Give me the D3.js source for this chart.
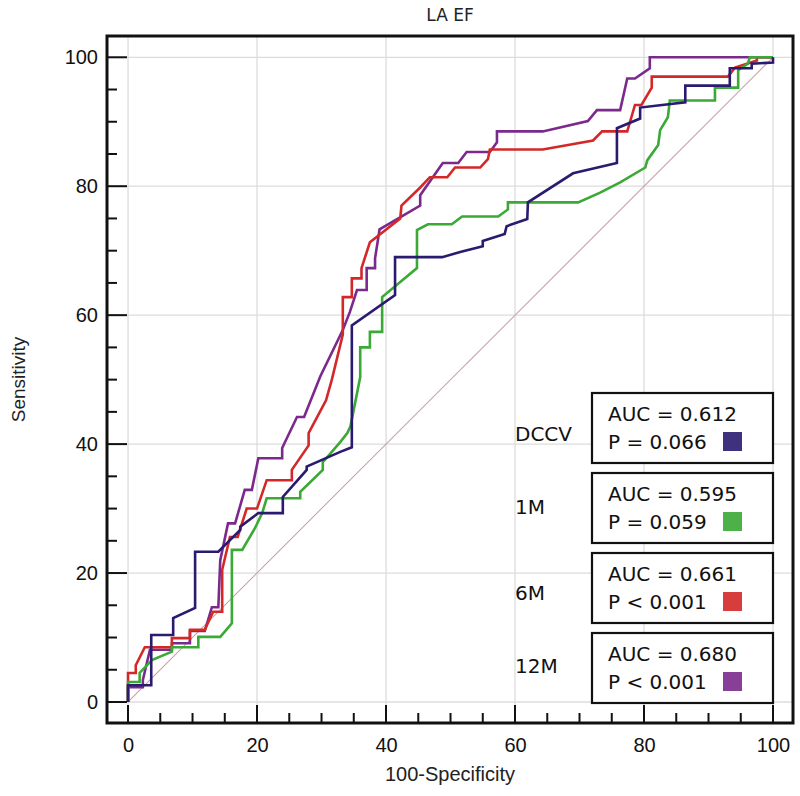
<!DOCTYPE html>
<html><head><meta charset="utf-8">
<script src="https://cdn.jsdelivr.net/npm/d3@7"></script>
<style>body{margin:0;background:#fff}</style>
</head><body>
<script>
const title = "LA EF";
const xLabel = "100-Specificity";
const yLabel = "Sensitivity";
const tickValues = [0, 20, 40, 60, 80, 100];
const seriesNames = ["DCCV", "1M", "6M", "12M"];
const seriesColors = ["#2b1b70", "#3aa936", "#d42828", "#7b2a8c"];
const aucLabels = ["AUC = 0.612", "AUC = 0.595", "AUC = 0.661", "AUC = 0.680"];
const pLabels = ["P = 0.066", "P = 0.059", "P < 0.001", "P < 0.001"];

const dccv = [[0,0],[0,2.6],[3.6,2.6],[3.6,10.4],[7,10.4],[7,13],[10.4,14.6],[10.4,23.3],[14,23.3],[17.4,26.7],[17.4,27.2],[20.2,29.3],[24,29.3],[24,31.8],[27.7,36],[27.7,36.5],[32.9,38.8],[34.7,39.5],[34.7,58.4],[41.4,63.1],[41.4,69],[48.7,69],[51.5,69.8],[55,70.7],[55,71.5],[58.4,72.6],[58.7,73.8],[61.9,74.9],[62,77.5],[69,82],[75.8,83.6],[75.8,89],[79.4,90.5],[79.4,92.2],[86.4,93],[86.4,95.6],[93.3,95.6],[93.3,98.3],[96.7,98.3],[96.7,99],[100,99.2],[100,100]];
const m1 = [[0,0],[0,3.1],[1.8,3.1],[1.8,4.5],[3.7,6.5],[6.8,7.8],[6.8,8.5],[10.9,8.5],[10.9,10.1],[14.3,10.1],[16.1,12.2],[16.1,23.6],[17.7,23.6],[19.7,27],[20.8,29.3],[21.5,31.6],[26.7,31.6],[26.7,32.6],[30.2,36],[30.2,37.2],[32.9,40.3],[34,41.7],[34.5,42.8],[36,50.4],[36,55],[37.5,55],[37.5,57.4],[39.4,57.4],[39.4,62.8],[44.8,67.3],[44.8,73.2],[46.5,74.1],[50.2,74.1],[51.8,75.3],[57.4,75.3],[58.9,76.4],[58.9,77.5],[69.8,77.5],[73.2,79],[76.3,80.6],[80.2,82.9],[80.5,84],[82.2,86.4],[82.5,88.7],[83.7,90.7],[84,93.3],[91,93.3],[91,95.3],[94.6,95.3],[94.6,98],[96.1,99],[96.4,100],[100,100]];
const m6 = [[0,0],[0,4.5],[1.2,4.5],[1.2,5.7],[2.6,8.5],[6.8,8.5],[6.8,9.9],[9.6,9.9],[9.6,11.2],[11.9,11.2],[13.2,14],[14.6,14],[14.6,20.5],[15.8,25.6],[17,25.6],[18.4,30],[20,30],[21.5,34.4],[25.4,34.4],[25.4,36],[28,39.8],[28,41.7],[30.7,46.8],[31.6,50],[33.3,57],[33.3,62.8],[34.7,62.8],[34.7,65.7],[36.2,65.7],[36.2,67.3],[37.5,71.3],[42.2,75],[42.4,77],[45.3,79.8],[46.8,81.4],[49.5,81.4],[50.7,82.9],[54.6,82.9],[55.8,84.2],[56.1,85.7],[64.3,85.7],[72.1,87.1],[73.5,88.5],[77.4,88.5],[78.6,92.6],[79.6,92.6],[81.2,95.3],[81.2,97],[93,97],[94.1,98.4],[97.5,99.5],[97.5,100],[100,100]];
const m12 = [[0,0],[0,2.3],[2.3,2.3],[2.3,3.4],[3.4,8.1],[6.8,8.1],[6.8,9.1],[9.6,9.1],[9.6,11],[11.9,11],[13,14.7],[14,14.7],[14.3,22],[15.5,27.7],[16.6,27.7],[18.1,32.9],[19.2,32.9],[20.2,37.8],[23.9,37.8],[23.9,39.4],[26.2,44.2],[27.3,44.2],[29.8,50.5],[33.3,57.7],[34.4,60.5],[35.5,63.9],[37,63.9],[37,67.3],[38.3,67.3],[38.3,68.8],[39,73.3],[45.3,77],[45.3,78.6],[48.8,83.6],[51.2,83.6],[52.5,85.3],[56.1,85.3],[57.2,86.8],[57.2,88.5],[64.3,88.5],[71.3,90.1],[72.7,91.8],[76.3,91.8],[77.4,96.7],[78.6,96.7],[80.9,98.3],[80.9,100],[100,100]];
const seriesData = [dccv, m1, m6, m12];

const W = 800, H = 796;
const L = 107, R = 793, T = 36, B = 723;
const svg = d3.select("body").append("svg").attr("width", W).attr("height", H);

const x = d3.scaleLinear().domain([-3.26, 103.1]).range([L, R]);
const y = d3.scaleLinear().domain([-3.26, 103.3]).range([B, T]);

// grid
svg.append("g").selectAll("line").data(tickValues).join("line")
  .attr("x1", d => x(d)).attr("x2", d => x(d)).attr("y1", T).attr("y2", B)
  .attr("stroke", "#dcdcdc").attr("stroke-width", 1.3);
svg.append("g").selectAll("line").data(tickValues).join("line")
  .attr("y1", d => y(d)).attr("y2", d => y(d)).attr("x1", L).attr("x2", R)
  .attr("stroke", "#dcdcdc").attr("stroke-width", 1.3);

// diagonal
svg.append("line").attr("x1", x(0)).attr("y1", y(0)).attr("x2", x(100)).attr("y2", y(100))
  .attr("stroke", "#c9a2aa").attr("stroke-width", 1.1);

// curves
const line = d3.line().x(d => x(d[0])).y(d => y(d[1]));
[3, 2, 1, 0].forEach(i => {
  svg.append("path").attr("d", line(seriesData[i])).attr("fill", "none")
    .attr("stroke", seriesColors[i]).attr("stroke-width", 2.6);
});

// ticks (inward)
const minor = d3.range(0, 101, 5);
const tickFont = "'Liberation Sans',Arial,sans-serif";
svg.append("g").selectAll("line").data(minor).join("line")
  .attr("x1", d => x(d)).attr("x2", d => x(d)).attr("y1", B)
  .attr("y2", d => d % 20 === 0 ? B - 18 : B - 10)
  .attr("stroke", "#111").attr("stroke-width", 2);
svg.append("g").selectAll("line").data(minor).join("line")
  .attr("y1", d => y(d)).attr("y2", d => y(d)).attr("x1", L)
  .attr("x2", d => d % 20 === 0 ? L + 20 : L + 10)
  .attr("stroke", "#111").attr("stroke-width", 2);
const gx = svg.append("g").attr("transform", `translate(0,${B})`)
  .call(d3.axisBottom(x).tickValues(tickValues).tickSize(0).tickPadding(15));
gx.select(".domain").remove();
gx.selectAll("text").attr("font-family", tickFont).attr("font-size", 20).attr("fill", "#111");
const gy = svg.append("g").attr("transform", `translate(${L},0)`)
  .call(d3.axisLeft(y).tickValues(tickValues).tickSize(0).tickPadding(9));
gy.select(".domain").remove();
gy.selectAll("text").attr("font-family", tickFont).attr("font-size", 20).attr("fill", "#111");

// frame
svg.append("rect").attr("x", L).attr("y", T).attr("width", R - L).attr("height", B - T)
  .attr("fill", "none").attr("stroke", "#111").attr("stroke-width", 3);

// titles
svg.append("text").attr("x", (L + R) / 2).attr("y", 21).attr("text-anchor", "middle")
  .attr("font-family", "'DejaVu Sans',sans-serif").attr("font-size", 17).attr("fill", "#222").text(title);
svg.append("text").attr("x", (L + R) / 2).attr("y", 781).attr("text-anchor", "middle")
  .attr("font-family", tickFont).attr("font-size", 20).attr("fill", "#222").text(xLabel);
svg.append("text").attr("transform", `translate(25,${(T + B) / 2}) rotate(-90)`).attr("text-anchor", "middle")
  .attr("font-family", tickFont).attr("font-size", 19).attr("fill", "#222").text(yLabel);

// legend
const boxX = 592, boxW = 181, boxH = 70, box0 = 393, gap = 80;
const labelY = [441, 514, 600, 673];
seriesNames.forEach((n, i) => {
  const by = box0 + i * gap;
  svg.append("rect").attr("x", boxX).attr("y", by).attr("width", boxW).attr("height", boxH)
    .attr("fill", "#fff").attr("stroke", "#111").attr("stroke-width", 2.2);
  svg.append("text").attr("x", boxX + 16).attr("y", by + 28).attr("font-family", "'DejaVu Sans',sans-serif")
    .attr("font-size", 20).attr("fill", "#111").text(aucLabels[i]);
  svg.append("text").attr("x", boxX + 16).attr("y", by + 56).attr("font-family", "'DejaVu Sans',sans-serif")
    .attr("font-size", 20).attr("fill", "#111").text(pLabels[i]);
  svg.append("rect").attr("x", boxX + 131).attr("y", by + 39).attr("width", 19).attr("height", 19)
    .attr("fill", seriesColors[i]).attr("opacity", 0.9);
  svg.append("text").attr("x", 515).attr("y", labelY[i]).attr("font-family", "'DejaVu Sans',sans-serif")
    .attr("font-size", 20).attr("fill", "#111").text(n);
});
</script>
</body></html>
